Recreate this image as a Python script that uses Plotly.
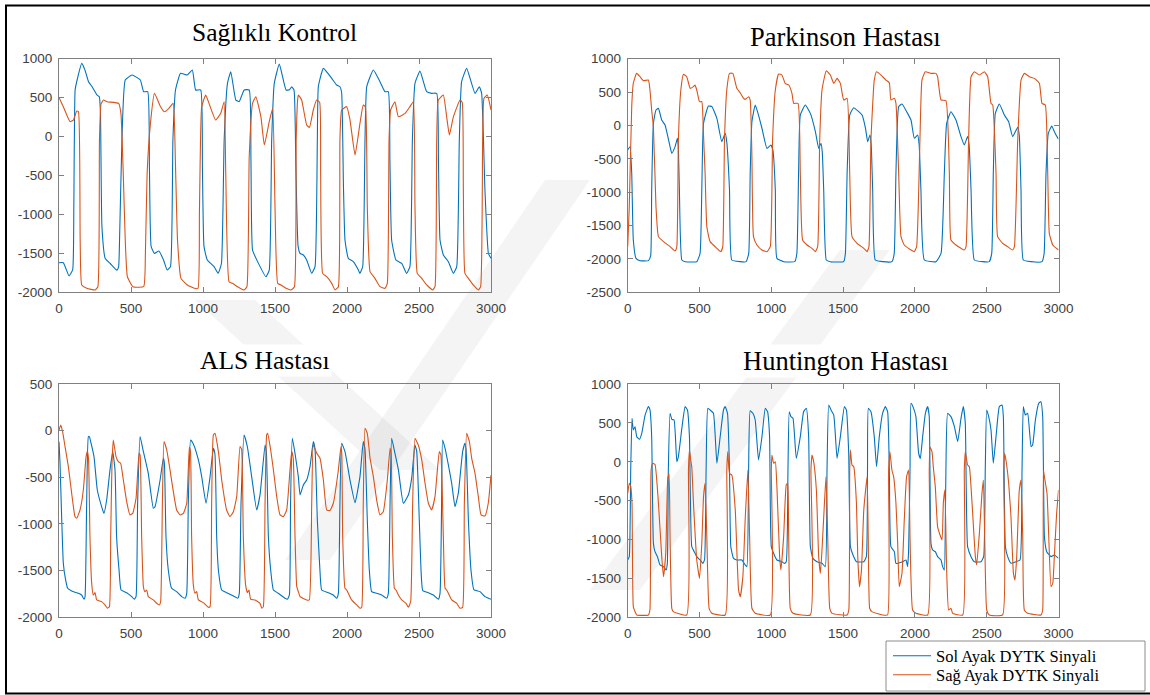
import plotly.graph_objects as go

W, H = 1150, 695

# ---------------- data ----------------
X_TICKS = [0, 500, 1000, 1500, 2000, 2500, 3000]
Y_TICKS_HC = [-2000, -1500, -1000, -500, 0, 500, 1000]
Y_TICKS_PD = [-2500, -2000, -1500, -1000, -500, 0, 500, 1000]
Y_TICKS_ALS = [-2000, -1500, -1000, -500, 0, 500]
Y_TICKS_HD = [-2000, -1500, -1000, -500, 0, 500, 1000]
TITLES = ["Sağlıklı Kontrol", "Parkinson Hastası", "ALS Hastası", "Huntington Hastası"]
SERIES_NAMES = ["Sol Ayak DYTK Sinyali", "Sağ Ayak DYTK Sinyali"]

HC_SOL = [(0,-1620),(30,-1620),(70,-1790),(95,-1710),(103,-900),(112,600),(125,720),(158,940),(181,850),
 (205,705),(230,640),(263,535),(280,510),(288,300),(298,-1150),(321,-1565),(356,-1630),(402,-1715),(414,-1670),
 (421,-1290),(437,-45),(460,726),(507,790),(565,726),(588,576),(616,576),(628,-400),(640,-1414),(663,-1500),
 (693,-1470),(726,-1585),(751,-1714),(774,-1670),(791,-45),(809,598),(844,812),(891,790),(926,855),(949,598),
 (984,598),(996,-400),(1007,-1414),(1030,-1585),(1077,-1670),(1105,-1757),(1128,-1630),(1147,-45),(1170,683),
 (1193,833),(1228,469),(1251,448),(1286,598),(1321,598),(1333,-300),(1344,-1457),(1379,-1606),(1437,-1800),
 (1460,-1714),(1477,-45),(1495,683),(1530,931),(1577,598),(1600,600),(1616,640),(1632,598),(1645,-400),
 (1660,-1400),(1674,-1500),(1697,-1521),(1720,-1585),(1755,-1757),(1778,-1670),(1794,-45),(1801,640),
 (1836,876),(1894,747),(1928,662),(1951,640),(1963,560),(1975,-600),(1986,-1328),(2009,-1564),(2044,-1607),
 (2079,-1714),(2090,-1757),(2109,-1670),(2125,-45),(2137,640),(2183,855),(2229,705),(2264,576),(2287,576),
 (2298,-300),(2310,-1328),(2340,-1585),(2380,-1629),(2414,-1757),(2437,-1670),(2454,-45),(2472,683),
 (2507,841),(2553,576),(2588,555),(2623,555),(2635,-300),(2646,-1328),(2669,-1521),(2704,-1607),(2739,-1757),
 (2762,-1670),(2780,-45),(2796,705),(2831,876),(2889,555),(2919,640),(2935,555),(2958,-686),(2982,-1500),
 (3000,-1564)]

HC_SAG = [(0,503),(30,384),(77,191),(100,212),(123,328),(135,320),(147,-1328),(158,-1906),(193,-1949),
 (251,-1970),(270,-1928),(281,-45),(292,420),(309,469),(333,448),(414,426),(430,298),(445,-400),(460,-1328),
 (475,-1800),(514,-1928),(588,-1928),(600,-1500),(612,-472),(635,170),(663,555),(705,384),(733,319),(763,362),
 (793,426),(808,-300),(823,-1328),(847,-1821),(891,-1906),(940,-1949),(965,-1949),(975,-1000),(979,-472),
 (991,384),(1019,533),(1042,426),(1088,212),(1123,298),(1147,448),(1158,-472),(1181,-1864),(1205,-1885),
 (1240,-1928),(1286,-1970),(1305,-1928),(1321,-259),(1344,426),(1367,512),(1402,255),(1426,-109),(1460,191),
 (1484,362),(1500,-900),(1519,-1885),(1542,-1906),(1577,-1949),(1612,-1970),(1635,-1928),(1647,-45),
 (1658,490),(1662,533),(1685,469),(1720,148),(1739,118),(1766,341),(1789,469),(1810,440),(1817,-472),
 (1831,-1757),(1859,-1800),(1894,-1885),(1917,-1970),(1940,-1928),(1951,-45),(1963,341),(1998,384),(2021,212),
 (2056,-237),(2090,170),(2113,405),(2128,380),(2141,-900),(2160,-1735),(2194,-1821),(2229,-1928),(2264,-1949),
 (2280,-1885),(2292,-45),(2303,341),(2333,448),(2357,255),(2403,298),(2437,384),(2461,448),(2472,-900),
 (2488,-1757),(2519,-1821),(2553,-1906),(2595,-1970),(2611,-1928),(2623,-45),(2634,469),(2669,533),(2692,255),
 (2711,20),(2739,255),(2785,469),(2800,440),(2808,-686),(2819,-1757),(2843,-1821),(2877,-1906),(2912,-1970),
 (2928,-1928),(2942,-45),(2951,490),(2974,533),(3000,341)]

PD_SOL = [(0,-368),(16,-318),(28,-717),(39,-1716),(58,-1991),(86,-2026),(144,-2026),(160,-1950),(167,-967),
 (179,31),(197,231),(214,256),(237,81),(260,6),(295,-318),(307,-418),(330,-318),(346,-193),(352,-300),(360,-967),
 (377,-2016),(400,-2041),(481,-2041),(504,-1916),(516,-967),(528,31),(562,291),(586,281),(621,106),(655,-243),
 (679,-118),(690,-250),(709,-967),(725,-2016),(783,-2041),(825,-2041),(843,-1916),(853,-717),(865,56),(888,306),
 (911,156),(935,-43),(970,-343),(997,-293),(1011,-368),(1028,-967),(1039,-1991),(1086,-2041),(1163,-2041),
 (1178,-1916),(1190,-717),(1202,156),(1237,306),(1272,181),(1307,-93),(1330,-343),(1346,-268),(1355,-400),
 (1365,-967),(1383,-2016),(1411,-2041),(1504,-2041),(1516,-1916),(1528,-717),(1546,156),(1574,266),(1609,206),
 (1632,156),(1656,-43),(1671,-243),(1687,-143),(1696,-300),(1706,-967),(1724,-2016),(1775,-2041),(1840,-2041),
 (1856,-1916),(1868,-717),(1887,281),(1910,321),(1949,181),(1973,81),(1996,-193),(2019,-143),(2030,-300),
 (2042,-967),(2066,-2016),(2147,-2041),(2182,-1916),(2205,-717),(2221,31),(2251,206),(2286,81),(2321,-168),
 (2344,-293),(2367,-168),(2378,-300),(2391,-967),(2414,-2016),(2472,-2041),(2518,-2041),(2535,-1916),
 (2546,-717),(2560,181),(2588,321),(2623,156),(2653,56),(2681,-168),(2716,-28),(2727,-150),(2739,-967),
 (2755,-2016),(2808,-2041),(2885,-2041),(2900,-1916),(2913,-717),(2929,-118),(2953,-8),(2971,-93),(3000,-208)]

PD_SAG = [(0,-1816),(11,-1217),(28,281),(39,631),(62,780),(86,730),(109,670),(144,680),(155,531),(167,231),
 (179,-19),(197,-1217),(214,-1666),(249,-1741),(295,-1816),(330,-1881),(342,-1816),(353,-218),(370,531),
 (388,765),(411,730),(435,556),(458,581),(469,606),(481,531),(500,356),(516,356),(527,-100),(539,-718),
 (551,-1516),(574,-1741),(621,-1841),(649,-1891),(662,-1816),(674,-218),(690,531),(709,780),(732,780),(760,556),
 (783,491),(807,406),(818,391),(842,431),(853,380),(865,-468),(876,-1666),(900,-1791),(935,-1866),(970,-1891),
 (993,-1816),(1009,-218),(1028,531),(1051,770),(1074,755),(1097,630),(1121,606),(1144,481),(1156,331),
 (1186,331),(1202,-718),(1218,-1716),(1249,-1791),(1283,-1841),(1307,-1891),(1323,-1816),(1337,-218),
 (1353,531),(1383,820),(1411,755),(1435,630),(1458,705),(1481,630),(1504,381),(1528,406),(1546,-718),
 (1562,-1666),(1597,-1766),(1644,-1841),(1667,-1891),(1680,-1816),(1694,-218),(1717,680),(1733,805),
 (1764,755),(1798,680),(1822,640),(1833,381),(1856,406),(1868,331),(1887,-718),(1903,-1666),(1926,-1791),
 (1973,-1866),(1996,-1891),(2012,-1816),(2035,-218),(2049,680),(2072,805),(2112,780),(2147,780),(2158,730),
 (2182,381),(2216,371),(2240,-718),(2251,-1716),(2286,-1791),(2321,-1841),(2344,-1866),(2356,-1816),
 (2374,-218),(2391,730),(2414,805),(2449,755),(2484,805),(2507,730),(2530,331),(2542,306),(2565,-718),
 (2576,-1666),(2611,-1766),(2646,-1816),(2681,-1866),(2693,-1816),(2716,-218),(2739,680),(2762,780),
 (2797,730),(2832,705),(2867,630),(2885,331),(2908,306),(2925,-718),(2936,-1616),(2960,-1791),(3000,-1866)]

ALS_SOL = [(0,-118),(7,-350),(19,-957),(30,-1421),(46,-1600),(60,-1689),(88,-1718),(134,-1743),(157,-1761),
 (174,-1807),(181,-1778),(192,-778),(204,-64),(211,-64),(220,-118),(243,-278),(266,-636),(296,-814),(312,-886),
 (331,-743),(354,-421),(373,-225),(389,-421),(400,-1136),(417,-1493),(431,-1707),(470,-1736),(505,-1778),
 (523,-1807),(535,-1778),(546,-778),(563,-64),(586,-225),(620,-457),(655,-832),(667,-814),(702,-529),(725,-293),
 (732,-350),(743,-1136),(759,-1493),(782,-1689),(817,-1725),(852,-1778),(875,-1796),(887,-1743),(898,-778),
 (914,-100),(933,-143),(968,-314),(991,-493),(1021,-778),(1049,-493),(1072,-189),(1083,-250),(1095,-1136),
 (1107,-1493),(1130,-1707),(1164,-1736),(1211,-1771),(1241,-1796),(1252,-1743),(1264,-778),(1285,-46),
 (1308,-171),(1338,-493),(1373,-850),(1396,-689),(1431,-154),(1440,-220),(1454,-1136),(1470,-1493),
 (1489,-1707),(1523,-1743),(1570,-1796),(1586,-1807),(1600,-1760),(1608,-778),(1620,-82),(1639,-243),
 (1662,-493),(1674,-689),(1697,-582),(1720,-529),(1743,-386),(1766,-118),(1778,-200),(1794,-957),(1812,-1493),
 (1824,-1707),(1870,-1736),(1905,-1761),(1928,-1796),(1940,-1743),(1951,-778),(1963,-135),(1986,-225),
 (2021,-529),(2056,-771),(2090,-493),(2113,-118),(2125,-200),(2141,-957),(2155,-1493),(2171,-1725),(2206,-1743),
 (2241,-1761),(2275,-1796),(2287,-1743),(2299,-778),(2310,-82),(2333,-243),(2357,-421),(2391,-778),(2426,-689),
 (2449,-511),(2472,-154),(2484,-220),(2502,-957),(2514,-1493),(2526,-1714),(2565,-1736),(2600,-1761),
 (2634,-1807),(2646,-1743),(2657,-778),(2664,-100),(2681,-189),(2704,-368),(2727,-564),(2750,-814),(2773,-671),
 (2803,-225),(2819,-135),(2827,-200),(2843,-957),(2861,-1493),(2882,-1707),(2924,-1725),(2958,-1778),
 (3000,-1807)]

ALS_SAG = [(0,7),(12,61),(25,-11),(42,-171),(65,-386),(88,-671),(111,-921),(123,-939),(146,-850),(169,-636),
 (188,-278),(197,-225),(205,-300),(215,-1136),(227,-1636),(238,-1761),(250,-1736),(262,-1814),(296,-1832),
 (319,-1868),(336,-1903),(350,-1886),(359,-1136),(368,-350),(377,-100),(396,-278),(412,-332),(428,-350),
 (447,-529),(470,-761),(493,-903),(512,-886),(535,-725),(556,-243),(563,-260),(574,-1136),(586,-1671),
 (597,-1725),(609,-1707),(620,-1778),(655,-1814),(678,-1850),(697,-1868),(706,-1832),(718,-778),(729,-118),
 (748,-207),(771,-421),(794,-654),(817,-850),(841,-903),(864,-886),(887,-778),(905,-179),(913,-220),
 (921,-1136),(933,-1654),(944,-1743),(956,-1725),(968,-1814),(1002,-1843),(1037,-1893),(1049,-1886),
 (1060,-778),(1072,-46),(1083,-29),(1107,-225),(1130,-529),(1164,-850),(1187,-921),(1211,-868),(1234,-707),
 (1257,-171),(1268,-200),(1280,-1136),(1296,-1654),(1308,-1736),(1319,-1707),(1331,-1807),(1361,-1814),
 (1396,-1850),(1408,-1903),(1419,-1886),(1431,-778),(1442,-46),(1449,-29),(1470,-207),(1489,-421),
 (1512,-707),(1535,-903),(1558,-921),(1581,-850),(1604,-421),(1616,-225),(1627,-300),(1639,-1136),
 (1651,-1671),(1662,-1725),(1674,-1778),(1720,-1814),(1738,-1814),(1755,-778),(1766,-154),(1789,-240),
 (1812,-293),(1836,-529),(1859,-850),(1882,-856),(1905,-778),(1940,-421),(1958,-171),(1964,-250),(1970,-1136),
 (1986,-1689),(1998,-1707),(2009,-1743),(2032,-1814),(2067,-1868),(2090,-1903),(2102,-1893),(2113,-778),
 (2125,25),(2141,-29),(2160,-293),(2183,-493),(2206,-743),(2229,-903),(2252,-868),(2280,-529),(2299,-189),
 (2307,-250),(2315,-1136),(2329,-1689),(2340,-1707),(2357,-1761),(2380,-1814),(2410,-1850),(2426,-1893),
 (2442,-1832),(2456,-778),(2472,-82),(2495,-154),(2519,-314),(2542,-564),(2565,-778),(2588,-850),(2611,-707),
 (2641,-225),(2652,-260),(2669,-1136),(2681,-1689),(2692,-1707),(2704,-1743),(2727,-1814),(2762,-1850),
 (2785,-1903),(2803,-1893),(2815,-778),(2831,-29),(2850,-118),(2866,-296),(2889,-457),(2912,-707),(2931,-903),
 (2958,-914),(2981,-778),(3000,-475)]

HD_SOL = [(0,-1263),(11,-1220),(21,-106),(30,559),(39,409),(51,451),(63,323),(81,289),(98,366),(121,601),
 (144,709),(155,666),(167,323),(179,-1049),(190,-1156),(207,-1220),(225,-1327),(249,-1349),(267,-1392),
 (276,-1306),(283,-106),(295,623),(307,546),(323,537),(342,1),(353,66),(377,430),(400,709),(416,666),(430,323),
 (446,-1092),(463,-1156),(481,-1220),(504,-1263),(523,-1306),(535,-1263),(546,-106),(558,687),(574,666),
 (597,623),(621,-20),(644,323),(667,666),(679,709),(695,623),(709,-106),(718,-1092),(737,-1242),(760,-1263),
 (795,-1263),(818,-1327),(830,-1349),(842,-106),(853,657),(872,623),(888,537),(911,23),(935,323),(958,687),
 (974,644),(988,323),(1000,-1092),(1021,-1199),(1039,-1263),(1074,-1285),(1090,-1306),(1104,-1285),
 (1116,-106),(1125,644),(1137,580),(1151,559),(1174,44),(1202,323),(1225,644),(1244,687),(1260,323),
 (1272,-1092),(1290,-1242),(1318,-1285),(1353,-1306),(1376,-1349),(1388,-106),(1400,730),(1416,666),
 (1435,601),(1458,44),(1481,323),(1509,709),(1523,666),(1539,109),(1551,-1092),(1569,-1199),(1593,-1285),
 (1644,-1285),(1662,-1220),(1670,-106),(1676,687),(1694,644),(1717,323),(1733,-63),(1752,323),(1775,623),
 (1794,709),(1810,644),(1822,-106),(1833,-1092),(1857,-1156),(1868,-1306),(1915,-1285),(1938,-1263),
 (1949,-1349),(1956,-1156),(1966,-106),(1973,751),(1991,687),(2007,580),(2026,109),(2038,44),(2054,323),
 (2073,623),(2089,709),(2100,580),(2112,-1049),(2124,-1135),(2142,-1156),(2158,-1220),(2182,-1263),
 (2193,-1349),(2205,-1392),(2212,-749),(2216,-106),(2228,623),(2251,580),(2275,451),(2298,259),(2321,559),
 (2337,709),(2351,494),(2367,-1092),(2391,-1220),(2414,-1285),(2460,-1285),(2479,-1220),(2490,-106),
 (2500,666),(2514,580),(2530,409),(2546,-20),(2565,323),(2588,709),(2607,730),(2616,580),(2630,-1092),
 (2646,-1220),(2669,-1306),(2704,-1285),(2732,-1263),(2746,-106),(2755,709),(2769,601),(2785,623),(2809,194),
 (2820,216),(2839,537),(2862,751),(2878,773),(2890,580),(2902,-963),(2918,-1156),(2948,-1220),(2971,-1199),
 (3000,-1242)]

HD_SAG = [(0,-406),(11,-277),(21,-320),(30,-534),(39,-1863),(51,-1927),(63,-1970),(144,-1970),(155,-1900),
 (163,-106),(174,-20),(190,-33),(214,-534),(237,-1220),(249,-1477),(265,-1177),(279,-213),(288,-149),
 (295,-963),(307,-1884),(318,-1927),(411,-1970),(423,-106),(430,151),(439,23),(446,-63),(458,-534),
 (481,-1263),(500,-1499),(516,-1049),(528,-449),(539,-277),(551,-963),(567,-1884),(586,-1949),(679,-1970),
 (690,-106),(697,130),(709,-149),(725,-170),(749,-620),(772,-1649),(784,-1734),(802,-1477),(818,-749),
 (837,-106),(849,-963),(865,-1884),(888,-1949),(993,-1970),(1000,-106),(1004,87),(1016,-20),(1028,1),
 (1039,-320),(1058,-1220),(1067,-1392),(1086,-963),(1104,-299),(1114,-277),(1121,-963),(1132,-1884),
 (1151,-1949),(1272,-1970),(1276,-106),(1283,87),(1295,1),(1314,-363),(1330,-1220),(1342,-1434),(1353,-1135),
 (1370,-534),(1381,-192),(1393,-963),(1407,-1884),(1423,-1949),(1528,-1970),(1540,-1900),(1546,-106),
 (1551,151),(1562,-41),(1574,-63),(1593,-534),(1602,-1220),(1614,-1606),(1628,-1392),(1644,-620),(1667,-192),
 (1675,-963),(1685,-1884),(1700,-1927),(1775,-1970),(1810,-1970),(1817,-106),(1826,130),(1840,-106),
 (1852,-192),(1868,-534),(1880,-1049),(1891,-1606),(1910,-1434),(1926,-749),(1942,-192),(1956,-106),
 (1966,-963),(1984,-1906),(2007,-1949),(2089,-1970),(2100,-106),(2105,194),(2119,130),(2128,-63),(2142,-320),
 (2158,-834),(2175,-941),(2189,-1006),(2198,-534),(2209,-363),(2221,-1392),(2235,-1906),(2251,-1884),
 (2263,-1949),(2333,-1970),(2344,-106),(2351,130),(2367,-41),(2379,-63),(2398,-534),(2421,-1220),(2430,-1327),
 (2449,-920),(2467,-406),(2477,-234),(2486,-963),(2500,-1906),(2518,-1970),(2611,-1970),(2618,-106),
 (2625,109),(2639,-41),(2653,-277),(2669,-706),(2686,-1434),(2697,-1520),(2709,-1220),(2727,-363),(2739,-234),
 (2751,-963),(2762,-1906),(2785,-1949),(2878,-1970),(2890,-1900),(2895,-106),(2902,-192),(2920,-406),
 (2932,-963),(2948,-1606),(2960,-1563),(2971,-1220),(2987,-663),(3000,-363)]

PANELS = [
    (HC_SOL, HC_SAG, Y_TICKS_HC),
    (PD_SOL, PD_SAG, Y_TICKS_PD),
    (ALS_SOL, ALS_SAG, Y_TICKS_ALS),
    (HD_SOL, HD_SAG, Y_TICKS_HD),
]

# ---------------- layout geometry (pixels) ----------------
BLUE, ORANGE = "#0072BD", "#D95319"
AX_COLOR = "#808080"
BOXES = [(59, 491, 58.7, 292.3), (627.7, 1058.5, 58.7, 292.3),
         (59, 491, 384, 617.3), (627.7, 1058.5, 384, 617.3)]
TITLE_POS = [(274, 33), (845, 37), (265, 360), (845, 361)]
TITLE_SIZE = [25.5, 26.5, 25.5, 26.5]
LEGEND_ROWS_Y = [656, 675]


def px(x):
    return x / W


def py(y):
    return 1 - y / H


fig = go.Figure()
layout = {}
for i, (sol, sag, yt) in enumerate(PANELS):
    n = "" if i == 0 else str(i + 1)
    xs = "x" + n
    ys = "y" + n
    for k, (series, col) in enumerate([(sol, BLUE), (sag, ORANGE)]):
        fig.add_trace(go.Scatter(
            x=[p[0] for p in series], y=[p[1] for p in series],
            mode="lines", line=dict(color=col, width=1.1, shape="spline", smoothing=0.4),
            name=SERIES_NAMES[k], showlegend=(i == 0),
            legend=("legend" if k == 0 else "legend2"),
            xaxis=xs, yaxis=ys, hoverinfo="skip", cliponaxis=True))
    l, r, t, b = BOXES[i]
    common = dict(showline=True, linecolor=AX_COLOR, linewidth=1, mirror="ticks",
                  ticks="inside", ticklen=5, tickcolor=AX_COLOR, tickwidth=1,
                  showgrid=False, zeroline=False, automargin=False,
                  tickfont=dict(family="Liberation Sans, Arial", size=13.5, color="#404040"))
    layout["xaxis" + n] = dict(domain=[px(l), px(r)], anchor=ys, range=[0, 3000],
                               tickvals=X_TICKS, ticktext=[str(v) for v in X_TICKS],
                               ticklabelstandoff=3, **common)
    layout["yaxis" + n] = dict(domain=[py(b), py(t)], anchor=xs, range=[yt[0], yt[-1]],
                               tickvals=yt, ticktext=[str(v) for v in yt],
                               ticklabelstandoff=3, **common)

annotations = []
for (cx, cy), txt, fs in zip(TITLE_POS, TITLES, TITLE_SIZE):
    annotations.append(dict(x=px(cx), y=py(cy), xref="paper", yref="paper", text=txt,
                            showarrow=False, xanchor="center", yanchor="middle",
                            bgcolor="white",
                            font=dict(family="Liberation Serif, Times New Roman", size=fs, color="black")))

shapes = []
WM = "rgba(0,0,0,0.045)"
for poly in [[(195, 300), (255, 300), (440, 470), (380, 470)],
             [(545, 180), (590, 180), (330, 560), (285, 560)],
             [(840, 250), (890, 250), (640, 590), (590, 590)]]:
    path = "M " + " L ".join(f"{px(x)},{py(y)}" for x, y in poly) + " Z"
    shapes.append(dict(type="path", path=path, xref="paper", yref="paper",
                       fillcolor=WM, line=dict(width=0), layer="below"))
for (x0, y0, x1, y1) in [(6, 5, 6, 694), (5, 5.5, 1150, 5.5), (5, 693.5, 1150, 693.5)]:
    shapes.append(dict(type="line", x0=px(x0), y0=py(y0), x1=px(x1), y1=py(y1),
                       xref="paper", yref="paper", line=dict(color="black", width=2)))
shapes.append(dict(type="rect", x0=px(886), y0=py(691), x1=px(1145), y1=py(641),
                   xref="paper", yref="paper", line=dict(color="#8c8c8c", width=1),
                   fillcolor="white", layer="below"))

leg_common = dict(x=px(888), xanchor="left", yanchor="middle",
                  bgcolor="rgba(0,0,0,0)", borderwidth=0, itemwidth=38,
                  font=dict(family="Liberation Serif, Times New Roman", size=16.5, color="black"))

fig.update_layout(
    width=W, height=H, margin=dict(l=0, r=0, t=0, b=0),
    paper_bgcolor="white", plot_bgcolor="rgba(0,0,0,0)",
    showlegend=True,
    legend=dict(y=py(LEGEND_ROWS_Y[0]), **leg_common),
    legend2=dict(y=py(LEGEND_ROWS_Y[1]), **leg_common),
    annotations=annotations, shapes=shapes, **layout)

fig.write_html("out.html")
